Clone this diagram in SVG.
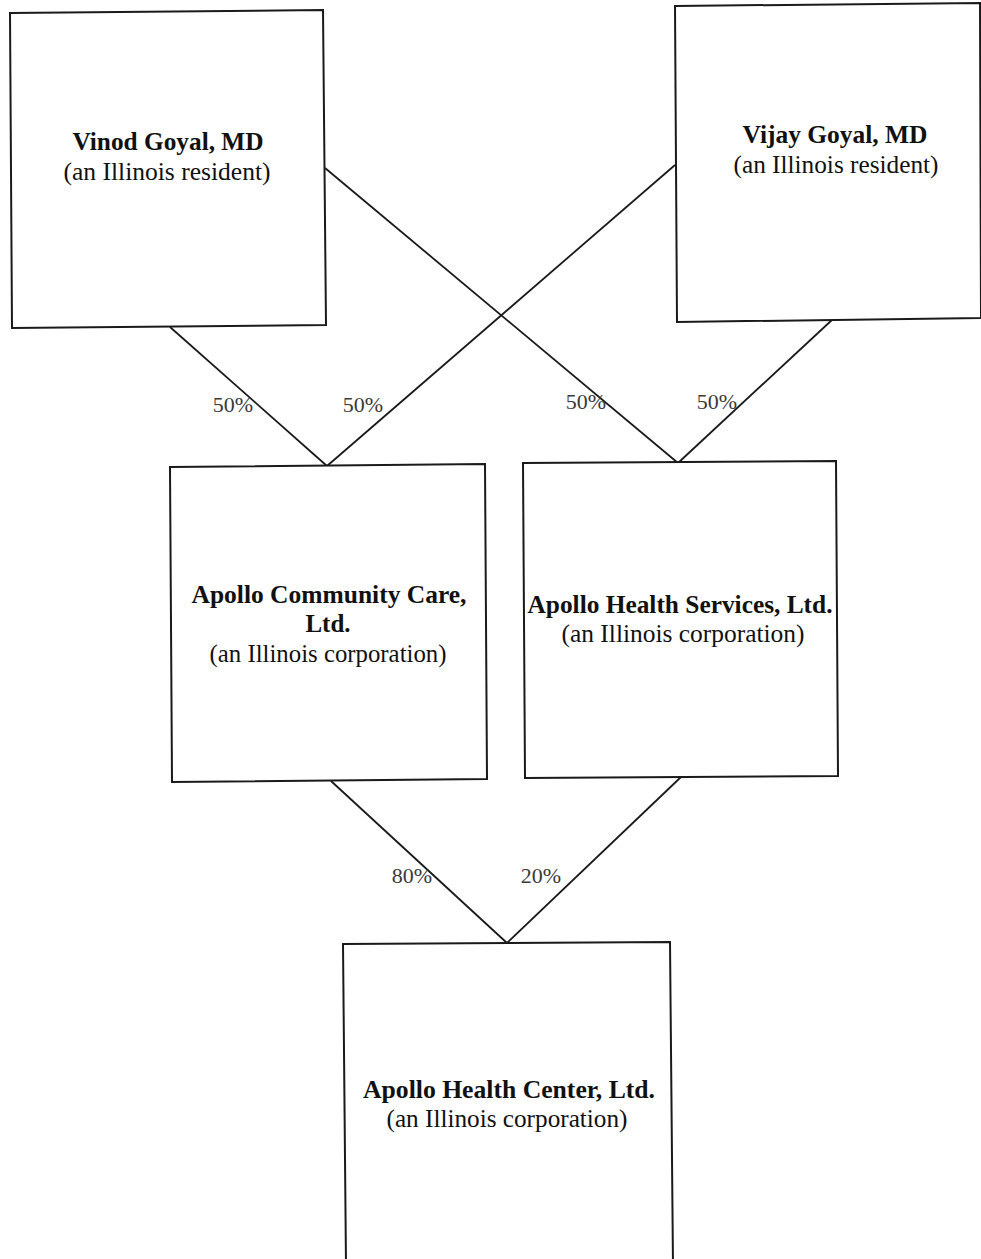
<svg xmlns="http://www.w3.org/2000/svg" width="981" height="1259" viewBox="0 0 981 1259">
<style>
.box{fill:#fff;stroke:#1a1a1a;stroke-width:2}
.ln{stroke:#1a1a1a;stroke-width:1.8;fill:none}
.b{font-family:"Liberation Serif","Times New Roman",serif;font-weight:bold;font-size:25px;fill:#111;text-anchor:middle}
.r{font-family:"Liberation Serif","Times New Roman",serif;font-size:25px;fill:#111;text-anchor:middle}
.p{font-family:"Liberation Serif","Times New Roman",serif;font-size:22px;fill:#3a3a3a;text-anchor:middle}
</style>
<rect width="981" height="1259" fill="#fff"/>
<g id="connectors">
<line class="ln" x1="170" y1="327" x2="327" y2="466"/>
<line class="ln" x1="675" y1="165" x2="327" y2="466"/>
<line class="ln" x1="325" y1="168" x2="678" y2="463"/>
<line class="ln" x1="833" y1="319" x2="678" y2="463"/>
<line class="ln" x1="331" y1="781" x2="507" y2="943"/>
<line class="ln" x1="681" y1="777" x2="507" y2="943"/>
<text class="p" x="233" y="412">50%</text>
<text class="p" x="363" y="412">50%</text>
<text class="p" x="586" y="409">50%</text>
<text class="p" x="717" y="409">50%</text>
<text class="p" x="412" y="883">80%</text>
<text class="p" x="541" y="883">20%</text>
</g>
<g id="vinod">
<polygon class="box" points="10,13 323,10 326,325 12,328"/>
<text class="b" x="168" y="150" textLength="191" lengthAdjust="spacingAndGlyphs">Vinod Goyal, MD</text>
<text class="r" x="167" y="180" textLength="207" lengthAdjust="spacingAndGlyphs">(an Illinois resident)</text>
</g>
<g id="vijay">
<polygon class="box" points="675,6 980,3 981,318 677,322"/>
<text class="b" x="835" y="143" textLength="185" lengthAdjust="spacingAndGlyphs">Vijay Goyal, MD</text>
<text class="r" x="836" y="173" textLength="205" lengthAdjust="spacingAndGlyphs">(an Illinois resident)</text>
</g>
<g id="acc">
<polygon class="box" points="170,467 485,464 487,779 172,782"/>
<text class="b" x="329" y="603" textLength="275" lengthAdjust="spacingAndGlyphs">Apollo Community Care,</text>
<text class="b" x="328" y="632">Ltd.</text>
<text class="r" x="328" y="662" textLength="237" lengthAdjust="spacingAndGlyphs">(an Illinois corporation)</text>
</g>
<g id="ahs">
<polygon class="box" points="523,463 836,461 838,776 525,778"/>
<text class="b" x="680" y="613" textLength="305" lengthAdjust="spacingAndGlyphs">Apollo Health Services, Ltd.</text>
<text class="r" x="683" y="642" textLength="243" lengthAdjust="spacingAndGlyphs">(an Illinois corporation)</text>
</g>
<g id="ahc">
<polygon class="box" points="343,944 670,942 673,1265 346,1265"/>
<text class="b" x="509" y="1098" textLength="292" lengthAdjust="spacingAndGlyphs">Apollo Health Center, Ltd.</text>
<text class="r" x="507" y="1127" textLength="241" lengthAdjust="spacingAndGlyphs">(an Illinois corporation)</text>
</g>
</svg>
